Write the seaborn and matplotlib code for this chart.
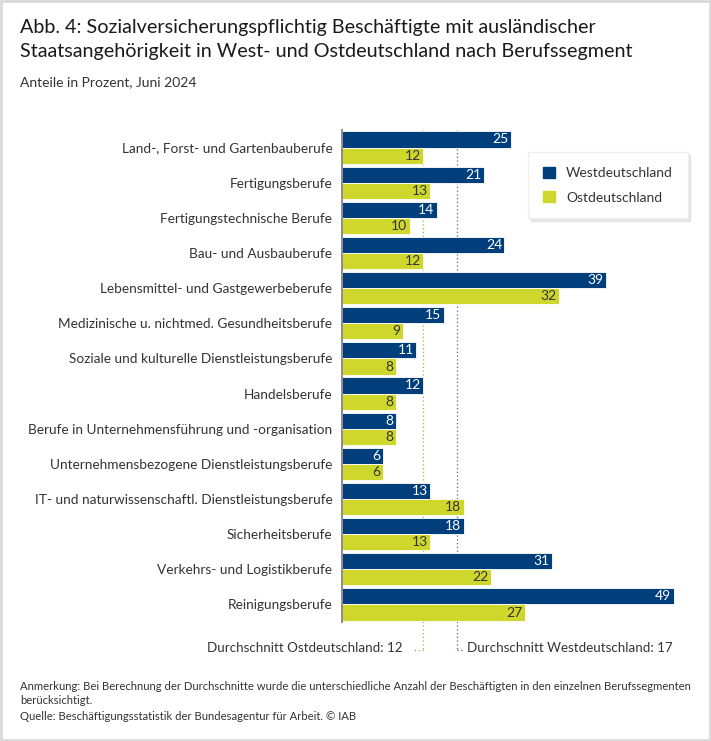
"""Sozialversicherungspflichtig Beschaeftigte mit auslaendischer Staatsangehoerigkeit."""

import matplotlib.pyplot as plt
import pandas as pd
import seaborn as sns
from matplotlib.patches import Patch, Rectangle

segmente = [
    "Land-, Forst- und Gartenbauberufe",
    "Fertigungsberufe",
    "Fertigungstechnische Berufe",
    "Bau- und Ausbauberufe",
    "Lebensmittel- und Gastgewerbeberufe",
    "Medizinische u. nichtmed. Gesundheitsberufe",
    "Soziale und kulturelle Dienstleistungsberufe",
    "Handelsberufe",
    "Berufe in Unternehmensführung und -organisation",
    "Unternehmensbezogene Dienstleistungsberufe",
    "IT- und naturwissenschaftl. Dienstleistungsberufe",
    "Sicherheitsberufe",
    "Verkehrs- und Logistikberufe",
    "Reinigungsberufe",
]
west = [25, 21, 14, 24, 39, 15, 11, 12, 8, 6, 13, 18, 31, 49]
ost = [12, 13, 10, 12, 32, 9, 8, 8, 8, 6, 18, 13, 22, 27]
schnitt_west = 17
schnitt_ost = 12

BLUE = "#003e7c"
GREEN = "#cfd72c"
TEXT = "#333333"

df = pd.DataFrame({"Segment": segmente, "Westdeutschland": west, "Ostdeutschland": ost})
long = df.melt(id_vars="Segment", var_name="Region", value_name="Anteil")

sns.set_theme(style="white")
plt.rcParams["font.family"] = ["Lato", "DejaVu Sans"]

fig = plt.figure(figsize=(7.11, 7.41), dpi=100)
ax = fig.add_axes([342 / 711, 1 - 622 / 741, 335 / 711, 492 / 741])

sns.barplot(
    data=long, y="Segment", x="Anteil", hue="Region", orient="h",
    palette=[BLUE, GREEN], saturation=1, width=0.92, ax=ax, legend=False,
    edgecolor="white", linewidth=0.6,
)

ax.set_xlim(0, 49.5)
ax.set_ylim(13.5, -0.5)
ax.set_xlabel("")
ax.set_ylabel("")
ax.set_xticks([])
ax.tick_params(axis="y", length=0, pad=7, labelsize=9.8, labelcolor=TEXT)
for s in ["top", "right", "bottom"]:
    ax.spines[s].set_visible(False)
ax.spines["left"].set_color("#8c8c8c")
ax.spines["left"].set_linewidth(1.4)

# value labels inside the bar ends
for cont, col in zip(ax.containers, ["white", TEXT]):
    for p in cont.patches:
        w = p.get_width()
        ax.text(w - 0.35, p.get_y() + p.get_height() / 2, f"{w:.0f}",
                ha="right", va="center", fontsize=10, color=col)

# average lines
y_end = 14.3
ax.plot([schnitt_ost, schnitt_ost], [-0.5, y_end], ls=(0, (1, 2)), lw=0.9,
        color="#a8ad3a", clip_on=False, zorder=0)
ax.plot([schnitt_ost, schnitt_ost - 1.5], [y_end, y_end], ls=(0, (1, 2)), lw=0.9,
        color="#a8ad3a", clip_on=False)
ax.plot([schnitt_west, schnitt_west], [-0.5, y_end], ls=(0, (1, 2)), lw=0.9,
        color="#3a6ea8", clip_on=False, zorder=0)
ax.plot([schnitt_west, schnitt_west + 1.0], [y_end, y_end], ls=(0, (1, 2)), lw=0.9,
        color="#3a6ea8", clip_on=False)
ax.text(schnitt_ost - 3.0, y_end - 0.05, f"Durchschnitt Ostdeutschland: {schnitt_ost}",
        ha="right", va="center", fontsize=9.6, color=TEXT)
ax.text(schnitt_west + 1.5, y_end - 0.05, f"Durchschnitt Westdeutschland: {schnitt_west}",
        ha="left", va="center", fontsize=9.6, color=TEXT)

handles = [Patch(color=BLUE, label="Westdeutschland"),
           Patch(color=GREEN, label="Ostdeutschland")]
fig.legend(
    handles=handles, loc="upper left",
    bbox_to_anchor=(528 / 711, 1 - 152 / 741), bbox_transform=fig.transFigure,
    frameon=True, fancybox=False, shadow={"color": "0.88", "alpha": 0.8},
    fontsize=10, handlelength=0.9, handleheight=0.9, labelspacing=0.85,
    borderpad=1.05, handletextpad=0.8, borderaxespad=0, edgecolor="#eeeeee",
    labelcolor=TEXT,
)

fig.text(20 / 711, 1 - 27 / 741,
         "Abb. 4: Sozialversicherungspflichtig Beschäftigte mit ausländischer",
         fontsize=14.2, color="#1a1a1a", va="center")
fig.text(20 / 711, 1 - 52 / 741,
         "Staatsangehörigkeit in West- und Ostdeutschland nach Berufssegment",
         fontsize=14.2, color="#1a1a1a", va="center")
fig.text(20 / 711, 1 - 82 / 741, "Anteile in Prozent, Juni 2024",
         fontsize=10, color=TEXT, va="center")

fig.text(20 / 711, 1 - 686 / 741,
         "Anmerkung: Bei Berechnung der Durchschnitte wurde die unterschiedliche Anzahl "
         "der Beschäftigten in den einzelnen Berufssegmenten",
         fontsize=8.15, color=TEXT, va="center")
fig.text(20 / 711, 1 - 701 / 741, "berücksichtigt.", fontsize=8.15, color=TEXT, va="center")
fig.text(20 / 711, 1 - 716 / 741,
         "Quelle: Beschäftigungsstatistik der Bundesagentur für Arbeit. © IAB",
         fontsize=8.15, color=TEXT, va="center")

fig.patches.append(Rectangle((0.002, 0.002), 0.996, 0.996, transform=fig.transFigure,
                             fill=False, edgecolor="#d9d9d9", linewidth=2))

fig.savefig("out.png", dpi=100)
